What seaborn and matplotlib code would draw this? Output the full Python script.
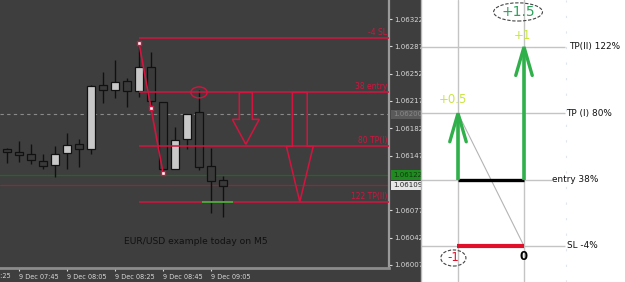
import matplotlib
matplotlib.use("Agg")
import matplotlib.pyplot as plt
import matplotlib.transforms as mtransforms
from matplotlib.patches import Ellipse, Rectangle, Polygon
import numpy as np
import pandas as pd
import seaborn as sns

sns.set_theme(style="dark")
plt.rcParams['font.family'] = ['DejaVu Sans']

# ---------------- data ----------------
times = ["07:40", "07:45", "07:50", "07:55", "08:00", "08:05", "08:10", "08:15",
         "08:20", "08:25", "08:30", "08:35", "08:40", "08:45", "08:50", "08:55",
         "09:00", "09:05", "09:10"]
opens = [1.06156, 1.06152, 1.06149, 1.06140, 1.06135, 1.06150, 1.06162, 1.06156,
         1.06237, 1.06231, 1.06243, 1.06230, 1.06261, 1.06216, 1.06130, 1.06168,
         1.06203, 1.06134, 1.06116]
highs = [1.06157, 1.06166, 1.06162, 1.06149, 1.06159, 1.06176, 1.06168, 1.06237,
         1.06254, 1.06269, 1.06246, 1.06291, 1.06280, 1.06216, 1.06184, 1.06200,
         1.06231, 1.06157, 1.06121]
lows = [1.06138, 1.06139, 1.06136, 1.06130, 1.06120, 1.06130, 1.06132, 1.06149,
        1.06214, 1.06221, 1.06209, 1.06222, 1.06212, 1.06125, 1.06130, 1.06156,
        1.06129, 1.06074, 1.06068]
closes = [1.06152, 1.06148, 1.06141, 1.06134, 1.06149, 1.06161, 1.06156, 1.06236,
          1.06231, 1.06241, 1.06230, 1.06261, 1.06217, 1.06130, 1.06167, 1.06200,
          1.06132, 1.06115, 1.06108]

price_ticks = [1.06322, 1.06287, 1.06252, 1.06217, 1.06182, 1.06147,
               1.06077, 1.06042, 1.06007]
time_tick_idx = [1, 5, 9, 13, 17]
time_tick_labels = ["9 Dec 07:45", "9 Dec 08:05", "9 Dec 08:25", "9 Dec 08:45", "9 Dec 09:05"]
cut_tick_idx = -3
cut_tick_label = "9 Dec 07:25"

fib_pcts = [-4, 38, 80, 122]
fib_names = ["SL", "entry", "TP(I)", "TP(II)"]
fib_prices = [1.06298, 1.06228, 1.06159, 1.06088]
swing_idx = [11, 13]
swing_prices = [1.06291, 1.06125]

ask_price = 1.06122
bid_price = 1.06109
marker_price = 1.06200
arrow_idx = [19.9, 24.4]

right_labels = ["SL -4%", "entry 38%", "TP (I) 80%", "TP(II) 122%"]
profit_labels = ["-1", "0", "+0.5", "+1", "+1.5"]

CRIMSON = "#d4143e"
BG = "#3e3e3e"

# ---------------- figure ----------------
W, H = 625, 282
fig = plt.figure(figsize=(W / 100, H / 100), dpi=100)
fig.patch.set_facecolor("white")
fig.patches.append(Rectangle((0, 0), 421 / W, 1, transform=fig.transFigure,
                             facecolor=BG, edgecolor="none", zorder=-10))

ax = fig.add_axes([0, 14 / H, 389 / W, 268 / H])
ax.set_facecolor(BG)
px = 0.000012805
ax.set_ylim(1.06322 - 249 * px, 1.06322 + 19 * px)
ax.set_xlim(-7 / 12, 382 / 12)

df = pd.DataFrame({"t": times, "o": opens, "h": highs, "l": lows, "c": closes})
df["i"] = np.arange(len(df))
df["bull"] = df["c"] >= df["o"]

# reference lines across the whole chart
ax.axhline(marker_price, color="#8a8a8a", lw=0.8, ls=(0, (3, 3)), zorder=1)
ax.axhline(ask_price, color="#1d6b1d", lw=0.9, zorder=1)
ax.axhline(bid_price, color="#8a2a3a", lw=0.9, zorder=1)

# candles
ax.vlines(df["i"], df["l"], df["h"], color="#111111", lw=1.0, zorder=2)
ax.bar(df["i"], (df["c"] - df["o"]).abs().clip(lower=0.000015),
       bottom=df[["o", "c"]].min(axis=1), width=0.66,
       color=np.where(df["bull"], "#c8c8c8", "#3a3a3a"),
       edgecolor="#111111", linewidth=0.9, zorder=3)

# fibonacci levels
xr = ax.get_xlim()[1]
ax.hlines(fib_prices, swing_idx[0], xr, color=CRIMSON, lw=1.1, zorder=4)
for p, n, pr in zip(fib_pcts, fib_names, fib_prices):
    ax.text(xr - 0.15, pr + 0.000012, f"{p} {n}", color=CRIMSON, fontsize=5.5,
            ha="right", va="bottom", zorder=5)

# zigzag swing line with markers
zz = pd.DataFrame({"x": [swing_idx[0], np.mean(swing_idx), swing_idx[1]],
                   "y": [swing_prices[0], np.mean(swing_prices), swing_prices[1]]})
sns.lineplot(data=zz, x="x", y="y", ax=ax, color=CRIMSON, lw=1.2, zorder=6,
             marker="s", markersize=3.5, markerfacecolor="white",
             markeredgecolor=CRIMSON, markeredgewidth=1)

# ellipse at entry
ax.add_patch(Ellipse((16, fib_prices[1]), 1.35, 11 * px, fill=False,
                     edgecolor=CRIMSON, lw=1, zorder=6))

# short green segment at TP(II)
ax.hlines(fib_prices[3], 16.25, 18.8, color="#3cba3c", lw=1.2, zorder=6)

# hollow arrows
def arrow_poly(xc, top, base, tip, sw, hw):
    return [(xc - sw, top), (xc + sw, top), (xc + sw, base), (xc + hw, base),
            (xc, tip), (xc - hw, base), (xc - sw, base)]

e, t1, t2 = fib_prices[1], fib_prices[2], fib_prices[3]
ax.add_patch(Polygon(arrow_poly(arrow_idx[0], e, (e + t1) / 2, t1 + 2 * px, 0.54, 1.12),
                     closed=True, fill=False, edgecolor=CRIMSON, lw=1.1, zorder=6))
ax.add_patch(Polygon(arrow_poly(arrow_idx[1], e, t1, t2, 0.62, 1.12),
                     closed=True, fill=False, edgecolor=CRIMSON, lw=1.1, zorder=6))

ax.text(15.75, 1.06322 - 223 * px, "EUR/USD example today on M5", color="#111111",
        fontsize=6.6, ha="center", va="center", zorder=6)

# axes styling
for s in ["top", "left"]:
    ax.spines[s].set_visible(False)
ax.spines["right"].set_color("#9a9a9a")
ax.spines["right"].set_linewidth(1.6)
ax.spines["bottom"].set_color("#8c8c8c")
ax.spines["bottom"].set_linewidth(2)
ax.yaxis.tick_right()
ax.set_yticks(price_ticks)
ax.set_yticklabels([f"{v:.5f}" for v in price_ticks])
ax.tick_params(axis="y", colors="#d8d8d8", labelsize=5, length=2, width=0.8, pad=1.5,
               left=False, right=True)
ax.set_xticks(time_tick_idx)
ax.set_xticklabels(time_tick_labels)
ax.tick_params(axis="x", colors="#d8d8d8", labelsize=4.7, length=2.5, width=0.8, pad=1.8,
               bottom=True)
for lab in ax.get_xticklabels():
    lab.set_ha("left")
ax.set_xlabel("")
ax.set_ylabel("")
ax.grid(False)
trans = mtransforms.blended_transform_factory(ax.transData, ax.transAxes)
ax.text(cut_tick_idx, -0.02, cut_tick_label, transform=trans, color="#d8d8d8",
        fontsize=4.7, ha="left", va="top", clip_on=False)

# price label boxes
ytr = mtransforms.blended_transform_factory(ax.transAxes, ax.transData)
ax.text(1.01, marker_price, f"{marker_price:.5f}", transform=ytr, fontsize=5,
        color="#8a8a8a", va="center", ha="left", clip_on=False,
        bbox=dict(boxstyle="square,pad=0.25", fc="#5a5a5a", ec="none"))
ax.text(1.01, ask_price, f"{ask_price:.5f}", transform=ytr, fontsize=5,
        color="#0d3d0d", va="center", ha="left", clip_on=False,
        bbox=dict(boxstyle="square,pad=0.25", fc="#1f8a1f", ec="none"))
ax.text(1.01, bid_price, f"{bid_price:.5f}", transform=ytr, fontsize=5,
        color="#222222", va="center", ha="left", clip_on=False,
        bbox=dict(boxstyle="square,pad=0.25", fc="#e6e6e6", ec="none"))

# ---------------- right diagram ----------------
ax2 = fig.add_axes([421 / W, 0, 204 / W, 1])
ax2.set_facecolor("white")
k = (246 - 47) / 126.0
ax2.set_ylim(-4 - 36 / k, 122 + 47 / k)
ax2.set_xlim(-37 / 66, 1 + 101 / 66)
ax2.set_xticks([])
ax2.set_yticks([])
for s in ax2.spines.values():
    s.set_visible(False)
ax2.spines["left"].set_visible(True)
ax2.spines["left"].set_color("#b8b8b8")
ax2.spines["left"].set_linewidth(1)
ax2.grid(False)

LG = "#c4c4c4"
ax2.axvline(0, color=LG, lw=1, zorder=1)
ax2.axvline(1, color=LG, lw=1, zorder=1)
ax2.axvline(1.64, color="#dfe6ee", lw=0.8, ls=(0, (2, 12)), zorder=1)

line_ends = [1.62, 1.42, 1.62, 1.62]
text_x = [1.655, 1.43, 1.635, 1.675]
x0 = ax2.get_xlim()[0]
for lvl, lab, le, tx in zip(fib_pcts, right_labels, line_ends, text_x):
    ax2.hlines(lvl, x0, le, color=LG, lw=1, zorder=1)
    ax2.text(tx, lvl, lab, fontsize=6.4, color="#111111", ha="left", va="center")

# entry and stop bars
ax2.hlines(fib_pcts[1], 0, 1, color="black", lw=2.4, zorder=3)
ax2.hlines(fib_pcts[0], -0.02, 1, color="#e0102a", lw=3, zorder=3)

# diagonal
ax2.plot([0, 1], [fib_pcts[2], fib_pcts[0]], color="#b4b4b4", lw=0.8, zorder=2)

# green arrows
G = "#2fb04a"
for xc, tip in [(0, fib_pcts[2]), (1, fib_pcts[3])]:
    ax2.plot([xc, xc], [fib_pcts[1], tip - 1], color=G, lw=2.6, zorder=4,
             solid_capstyle="butt")
    ax2.plot([xc - 0.125, xc, xc + 0.125], [tip - 18, tip, tip - 18], color=G,
             lw=2.4, zorder=4, solid_joinstyle="miter")

YG = "#c8e640"
ax2.text(-0.08, 88.5, profit_labels[2], color=YG, fontsize=8.5, ha="center", va="center")
ax2.text(0.97, 129.5, profit_labels[3], color=YG, fontsize=8.5, ha="center", va="center")
ax2.text(0.91, 144.2, profit_labels[4], color="#2aa35a", fontsize=10, ha="center",
         va="center", zorder=5)
ax2.add_patch(Ellipse((0.91, 144.2), 0.74, 11.5, fill=False, edgecolor="#444444",
                      lw=0.8, ls=(0, (3, 1.5)), zorder=5))
ax2.text(-0.07, -11.2, profit_labels[0], color="#e0102a", fontsize=8.5, ha="center",
         va="center", zorder=5)
ax2.add_patch(Ellipse((-0.07, -11.6), 0.38, 10.2, fill=False, edgecolor="#444444",
                      lw=0.8, ls=(0, (3, 1.5)), zorder=5))
ax2.text(1.0, -10.5, profit_labels[1], color="black", fontsize=8.5, fontweight="bold",
         ha="center", va="center", zorder=5)

fig.savefig("out.png", dpi=100, facecolor=fig.get_facecolor())
